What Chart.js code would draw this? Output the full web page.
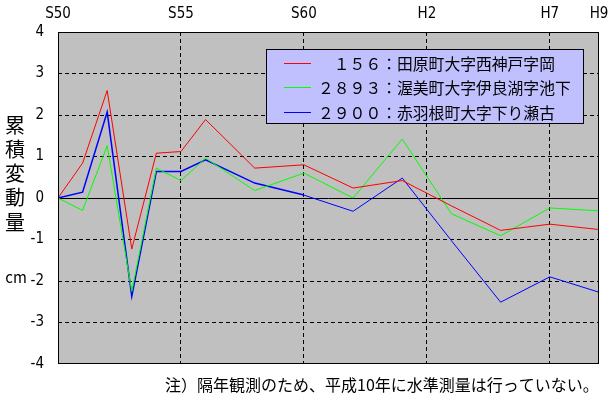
<!DOCTYPE html>
<html>
<head>
<meta charset="utf-8">
<script src="https://cdn.jsdelivr.net/npm/chart.js@4/dist/chart.umd.min.js"></script>
<style>
	html, body { margin: 0; padding: 0; background: #fff; }
	canvas { display: block; }
</style>
</head>
<body>
<canvas id="myChart" width="608" height="395"></canvas>
<script>
// 観測年（西暦）
var years = [1975, 1976, 1977, 1978, 1979, 1980, 1981, 1983, 1985, 1987, 1989, 1991, 1993, 1995, 1997];
// 上側の目盛
var tickYears = [1975, 1980, 1985, 1990, 1995, 1997];
var tickLabels = ['S50', 'S55', 'S60', 'H2', 'H7', 'H9'];
// 累積変動量 (cm)
var names = ['　１５６：田原町大字西神戸字岡', '２８９３：渥美町大字伊良湖字池下', '２９００：赤羽根町大字下り瀬古'];
var s156  = [0, 0.84, 2.59, -1.23, 1.08, 1.12, 1.89, 0.72, 0.80, 0.24, 0.42, -0.19, -0.78, -0.63, -0.76];
var s2893 = [0, -0.30, 1.26, -2.25, 0.72, 0.42, 0.96, 0.18, 0.60, 0.00, 1.42, -0.38, -0.91, -0.24, -0.31];
var s2900 = [0, 0.14, 2.07, -2.37, 0.64, 0.64, 0.92, 0.36, 0.07, -0.32, 0.48, -1.03, -2.51, -1.90, -2.27];

var tickFont = {family: '"DejaVu Sans Condensed", "Liberation Sans Narrow", sans-serif', size: 15};
var jpFont = '"Noto Sans CJK JP", sans-serif';

function pts(arr) {
	return arr.map(function (v, i) { return {x: years[i], y: v}; });
}

// グラフ背景・枠・凡例・見出し
var decor = {
	id: 'decor',
	beforeDraw: function (chart) {
		var a = chart.chartArea, ctx = chart.ctx;
		ctx.save();
		ctx.fillStyle = '#c0c0c0';
		ctx.fillRect(a.left, a.top, a.right - a.left, a.bottom - a.top);
		ctx.restore();
	},
	afterDraw: function (chart) {
		var a = chart.chartArea, ctx = chart.ctx;
		ctx.save();
		ctx.strokeStyle = '#000';
		ctx.lineWidth = 1;
		ctx.strokeRect(Math.round(a.left) + 0.5, Math.round(a.top) + 0.5, Math.round(a.right - a.left) - 1, Math.round(a.bottom - a.top) - 1);

		// 凡例
		ctx.fillStyle = '#c0c0ff';
		ctx.fillRect(266, 49, 318, 75);
		ctx.strokeRect(266.5, 49.5, 317, 74);
		ctx.font = '15.8px ' + jpFont;
		ctx.textBaseline = 'middle';
		ctx.textAlign = 'left';
		chart.data.datasets.forEach(function (ds, i) {
			var y = 63 + i * 24.3;
			ctx.strokeStyle = ds.borderColor;
			ctx.beginPath();
			ctx.moveTo(284, Math.round(y) + 0.5);
			ctx.lineTo(311, Math.round(y) + 0.5);
			ctx.stroke();
			ctx.fillStyle = '#000';
			ctx.fillText(ds.label, 318, y + 1);
		});

		// 縦軸見出し
		ctx.font = '20px ' + jpFont;
		ctx.textAlign = 'center';
		'累積変動量'.split('').forEach(function (ch, i) {
			ctx.fillText(ch, 15, 125 + i * 24.3);
		});
		ctx.font = '15px ' + jpFont;
		ctx.fillText('cm', 16, 277);

		// 注記
		ctx.font = '16px ' + jpFont;
		ctx.textAlign = 'left';
		ctx.fillText('注）隔年観測のため、平成10年に水準測量は行っていない。', 165, 385);
		ctx.restore();
	}
};

var ctx = document.getElementById('myChart').getContext('2d');
var chart = new Chart(ctx, {
	type: 'line',
	data: {
		datasets: [
			{label: names[0], data: pts(s156), borderColor: '#ff0000', borderWidth: 1},
			{label: names[1], data: pts(s2893), borderColor: '#00ff00', borderWidth: 1},
			{
				label: names[2], data: pts(s2900), borderColor: '#0000ff', borderWidth: 1,
				segment: {borderWidth: function (c) { return c.p0.parsed.x < 1985 ? 1.5 : 1; }}
			}
		]
	},
	options: {
		responsive: false,
		animation: false,
		layout: {padding: {left: 0, right: 9, top: 0, bottom: 31}},
		elements: {point: {radius: 0}, line: {tension: 0, fill: false}},
		plugins: {legend: {display: false}, tooltip: {enabled: false}},
		scales: {
			x: {
				type: 'linear',
				position: 'top',
				min: 1975,
				max: 1997,
				afterBuildTicks: function (s) {
					s.ticks = tickYears.map(function (v) { return {value: v}; });
				},
				afterFit: function (s) {
					s.height = 32;
					s.paddingLeft = 0;
					s.paddingRight = 0;
				},
				ticks: {
					autoSkip: false,
					maxRotation: 0,
					color: '#000',
					font: tickFont,
					padding: 9,
					callback: function (v) { return tickLabels[tickYears.indexOf(v)]; }
				},
				grid: {
					drawTicks: false,
					lineWidth: 1,
					color: function (c) {
						var v = c.tick && c.tick.value;
						return (v === 1975 || v === 1997) ? 'rgba(0,0,0,0)' : '#000';
					}
				},
				border: {display: false, dash: [4, 3]}
			},
			y: {
				min: -4,
				max: 4,
				afterFit: function (s) {
					s.width = 58;
				},
				ticks: {
					stepSize: 1,
					color: '#000',
					font: tickFont,
					padding: 14
				},
				grid: {
					drawTicks: false,
					lineWidth: 1,
					color: function (c) {
						var v = c.tick && c.tick.value;
						return (v === 4 || v === -4) ? 'rgba(0,0,0,0)' : '#000';
					}
				},
				border: {
					display: false,
					dash: function (c) {
						return (c.tick && c.tick.value === 0) ? [] : [4, 3];
					}
				}
			}
		}
	},
	plugins: [decor]
});
</script>
</body>
</html>
